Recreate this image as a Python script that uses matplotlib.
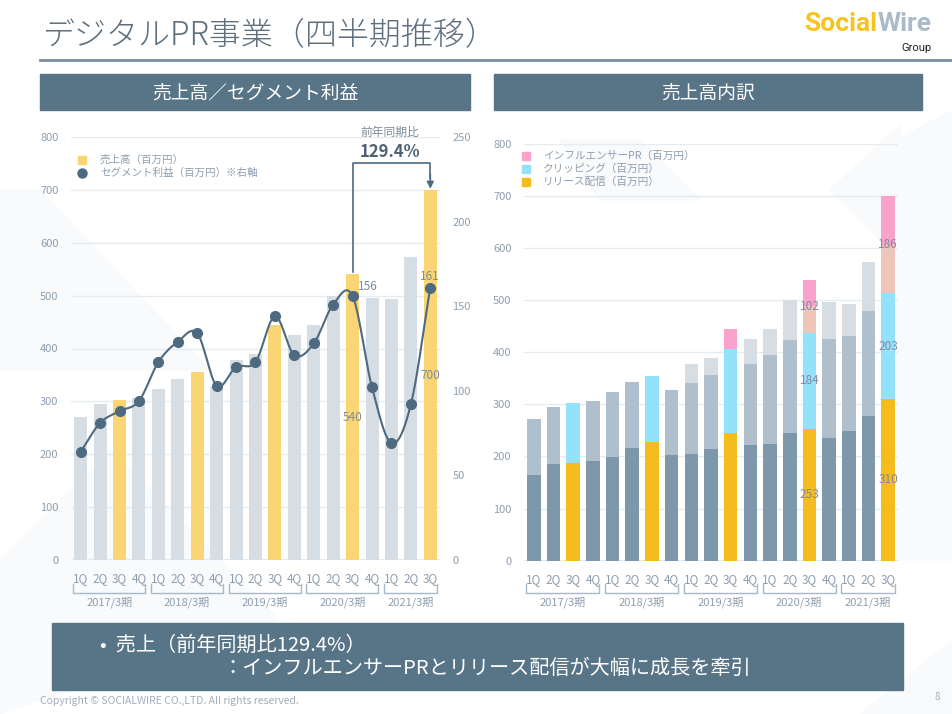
# -*- coding: utf-8 -*-
"""
Digital PR business, quarterly trend (2 panels)
"""
import numpy as np
import matplotlib
matplotlib.use("Agg")
import matplotlib.pyplot as plt
from matplotlib.patches import Rectangle, Polygon

plt.rcParams['font.family'] = ['Noto Sans CJK JP', 'DejaVu Sans']

# ---- data ----
quarters = ['1Q', '2Q', '3Q', '4Q'] * 4 + ['1Q', '2Q', '3Q']
years = ['2017/3期', '2018/3期', '2019/3期', '2020/3期', '2021/3期']
year_spans = [(0, 3), (4, 7), (8, 11), (12, 15), (16, 18)]

sales = [270, 295, 302, 307, 324, 342, 355, 327, 378, 389,
         444, 425, 445, 499, 540, 496, 493, 573, 700]
seg_profit = [64, 81, 88, 94, 117, 129, 134, 103, 114, 117,
              144, 121, 128, 151, 156, 102, 69, 92, 161]

release = [165, 186, 188, 192, 198, 216, 228, 203, 205, 214,
           245, 222, 224, 245, 253, 236, 249, 278, 310]
clipping = [106, 109, 114, 115, 126, 126, 127, 125, 136, 143,
            160, 156, 170, 179, 184, 190, 182, 201, 203]
influencer = [0, 0, 0, 0, 0, 0, 0, 0, 37, 32,
              40, 47, 51, 75, 102, 70, 62, 94, 186]

highlight = [2, 6, 10, 14, 18]     # 3Q bars
labelled = [14, 18]                # bars with value labels

# ---- colours ----
GREY_TXT = '#8E9EAF'
HEAD = '#587487'
LINE = '#4E6A80'
C_BAR = '#D6DDE3'
C_BAR_HI = '#F9D673'
C_REL, C_REL_HI = '#7D98AB', '#F5BC1E'
C_CLIP, C_CLIP_HI = '#AFBFCC', '#94E1FB'
C_INF, C_INF_HI, C_INF_MID = '#D6DDE3', '#F9A3CC', '#EEC5B9'

W, H = 953, 714


def fx(x):
    return x / W


def fy(y):
    return 1 - y / H


def catmull_rom(x, y, n=20):
    # smooth path through the points (for drawing only)
    x = np.asarray(x, float)
    y = np.asarray(y, float)
    px = np.concatenate([[2 * x[0] - x[1]], x, [2 * x[-1] - x[-2]]])
    py = np.concatenate([[2 * y[0] - y[1]], y, [2 * y[-1] - y[-2]]])
    out_x, out_y = [], []
    t = np.linspace(0, 1, n, endpoint=False)
    for i in range(1, len(px) - 2):
        for arr, out in ((px, out_x), (py, out_y)):
            p0, p1, p2, p3 = arr[i - 1], arr[i], arr[i + 1], arr[i + 2]
            out.extend(0.5 * ((2 * p1) + (-p0 + p2) * t +
                              (2 * p0 - 5 * p1 + 4 * p2 - p3) * t ** 2 +
                              (-p0 + 3 * p1 - 3 * p2 + p3) * t ** 3))
    out_x.append(x[-1])
    out_y.append(y[-1])
    return np.array(out_x), np.array(out_y)


def style_axes(ax, ymax, step):
    ax.set_xlim(-0.5, 18.5)
    ax.set_ylim(0, ymax)
    ax.set_yticks(np.arange(0, ymax + 1, step))
    ax.set_facecolor('none')
    for s in ax.spines.values():
        s.set_visible(False)
    ax.grid(axis='y', color='#E6EBEF', linewidth=1.0)
    ax.set_axisbelow(True)
    ax.tick_params(length=0, labelsize=8, labelcolor=GREY_TXT, pad=9)
    ax.set_xticks(range(len(quarters)))
    ax.set_xticklabels(quarters, fontsize=8.5, color=GREY_TXT)
    ax.axhline(0, color='#E3E9EE', linewidth=1.5, zorder=1)
    # year brackets
    tr = ax.get_xaxis_transform()
    for (a, b), lab in zip(year_spans, years):
        x0, x1 = a - 0.38, b + 0.33
        ax.plot([x0, x0, x1, x1], [-0.056, -0.078, -0.078, -0.056],
                color='#A9B8C6', linewidth=1.0, transform=tr, clip_on=False)
        ax.text((x0 + x1) / 2, -0.1, lab, transform=tr, ha='center', va='center',
                fontsize=8, color=GREY_TXT)


fig = plt.figure(figsize=(9.53, 7.14), dpi=100)
fig.patch.set_facecolor('white')

# background layer in pixel coordinates (y down)
bg = fig.add_axes([0, 0, 1, 1], zorder=-1)
bg.set_xlim(0, W)
bg.set_ylim(H, 0)
bg.axis('off')

# faint background shapes
for pts in [[(0, 560), (110, 450), (280, 620), (0, 714)],
            [(0, 190), (40, 190), (210, 370), (0, 370)],
            [(897, 140), (953, 110), (953, 560), (897, 560)],
            [(830, 190), (900, 125), (900, 260)],
            [(560, 140), (640, 140), (700, 200), (600, 200)],
            [(860, 714), (953, 640), (953, 714)]]:
    bg.add_patch(Polygon(pts, closed=True, color='#F8FAFC', zorder=0))

# title
bg.text(42, 36, 'デジタルPR事業（四半期推移）', fontsize=23, color='#5E6F7E',
        va='center', ha='left', fontweight='light')
bg.plot([40, 953], [60, 60], color='#7890A2', linewidth=2)
# logo
bg.text(877, 24, 'Social', fontsize=19, color='#F7C31F', ha='right',
        va='center', fontweight='bold', family=['Roboto', 'DejaVu Sans'])
bg.text(878, 24, 'Wire', fontsize=19, color='#A9BACB', ha='left',
        va='center', fontweight='bold', family=['Roboto', 'DejaVu Sans'])
bg.text(932, 48, 'Group', fontsize=8, color='#222222', ha='right',
        va='center', family=['Roboto', 'DejaVu Sans'])

# panel headers
for x0, x1, lab in [(40, 470, '売上高／セグメント利益'), (494, 922, '売上高内訳')]:
    bg.add_patch(Rectangle((x0, 74), x1 - x0, 36, color=HEAD, zorder=1))
    bg.text((x0 + x1) / 2, 93, lab, fontsize=13.5, color='white',
            ha='center', va='center')

# ---- left chart ----
ax1 = fig.add_axes([fx(71), fy(560), fx(440 - 71), (560 - 137) / H])
style_axes(ax1, 800, 100)
x = np.arange(len(sales))
cols = [C_BAR_HI if i in highlight else C_BAR for i in x]
ax1.bar(x, sales, width=0.67, color=cols, zorder=2)
ax1.text(14, 270, '540', ha='center', va='center', fontsize=8.5, color='#7D8C99', zorder=5)
ax1.text(18, 348, '700', ha='center', va='center', fontsize=8.5, color='#7D8C99', zorder=5)

ax2 = ax1.twinx()
ax2.set_ylim(0, 250)
ax2.set_yticks(np.arange(0, 251, 50))
for s in ax2.spines.values():
    s.set_visible(False)
ax2.tick_params(length=0, labelsize=8, labelcolor=GREY_TXT, pad=9)
sx, sy = catmull_rom(x, seg_profit)
ax2.plot(sx, sy, color=LINE, linewidth=1.5, zorder=3)
ax2.plot(x, seg_profit, 'o', color=LINE, markersize=7, zorder=4)
ax2.text(14.3, seg_profit[14] + 2, str(seg_profit[14]), ha='left', va='bottom',
         fontsize=8.5, color='#7D8C99')
ax2.text(18, seg_profit[18] + 3, str(seg_profit[18]), ha='center', va='bottom',
         fontsize=8.5, color='#7D8C99')

# yoy annotation
ax1.plot([14, 14, 18, 18], [545, 750, 750, 722], color=LINE, linewidth=1.2, zorder=5)
ax1.annotate('', xy=(18, 702), xytext=(18, 730),
             arrowprops=dict(arrowstyle='-|>', color=LINE, lw=1.2,
                             mutation_scale=10, shrinkA=0, shrinkB=0))
bg.text(390, 132, '前年同期比', fontsize=8.5, color='#7D8C99', ha='center', va='center')
bg.text(390, 152, '129.4%', fontsize=12, color='#4E6175', ha='center',
        va='center', fontweight='bold')

# legend (left)
bg.add_patch(Rectangle((78, 156), 8, 8, color=C_BAR_HI))
bg.text(100, 160, '売上高（百万円）', fontsize=7.6, color=GREY_TXT, va='center')
bg.plot([82], [173], 'o', markersize=6.5, color=LINE)
bg.text(100, 173, 'セグメント利益（百万円）※右軸', fontsize=7.6, color=GREY_TXT,
        va='center')

# ---- right chart ----
ax3 = fig.add_axes([fx(524), fy(560.7), fx(898 - 524), (560.7 - 143.5) / H])
style_axes(ax3, 800, 100)
rel = np.array(release)
clp = np.array(clipping)
inf = np.array(influencer)
c_rel = [C_REL_HI if i in highlight else C_REL for i in x]
c_clp = [C_CLIP_HI if i in highlight else C_CLIP for i in x]
c_inf = [C_INF_HI if i in highlight else C_INF for i in x]
bw = 0.69
ax3.bar(x, rel, width=bw, color=c_rel, zorder=2)
ax3.bar(x, clp, width=bw, bottom=rel, color=c_clp, zorder=2)
ax3.bar(x, inf, width=bw, bottom=rel + clp, color=c_inf, zorder=2)
# lower half of labelled influencer segments shown in peach
ax3.bar(labelled, inf[labelled] / 2, width=bw, bottom=(rel + clp)[labelled],
        color=C_INF_MID, zorder=2)
for i in labelled:
    for bottom, val in [(0, rel[i]), (rel[i], clp[i]), (rel[i] + clp[i], inf[i])]:
        ax3.text(i, bottom + val / 2, str(val), ha='center', va='center',
                 fontsize=8.5, color='#8487A0', zorder=5)

# legend (right)
for k, (c, lab) in enumerate([(C_INF_HI, 'インフルエンサーPR（百万円）'),
                              (C_CLIP_HI, 'クリッピング（百万円）'),
                              (C_REL_HI, 'リリース配信（百万円）')]):
    yy = 156 + k * 13
    bg.add_patch(Rectangle((522, yy - 4), 8, 8, color=c))
    bg.text(543, yy, lab, fontsize=7.7, color=GREY_TXT, va='center')

# ---- bottom comment box ----
bg.add_patch(Rectangle((52, 623), 903 - 52, 67, color=HEAD, zorder=1))
bg.text(100, 645, '•  売上（前年同期比129.4%）', fontsize=14.5, color='white',
        va='center', ha='left')
bg.text(222, 668, '：インフルエンサーPRとリリース配信が大幅に成長を牽引',
        fontsize=14.5, color='white', va='center', ha='left')

bg.text(40, 701, 'Copyright © SOCIALWIRE CO.,LTD. All rights reserved.',
        fontsize=7.5, color='#A0AEBB', va='center')
bg.text(937, 697, '8', fontsize=7, color='#A0AEBB', va='center', ha='center')

fig.savefig('out.png', dpi=100)
